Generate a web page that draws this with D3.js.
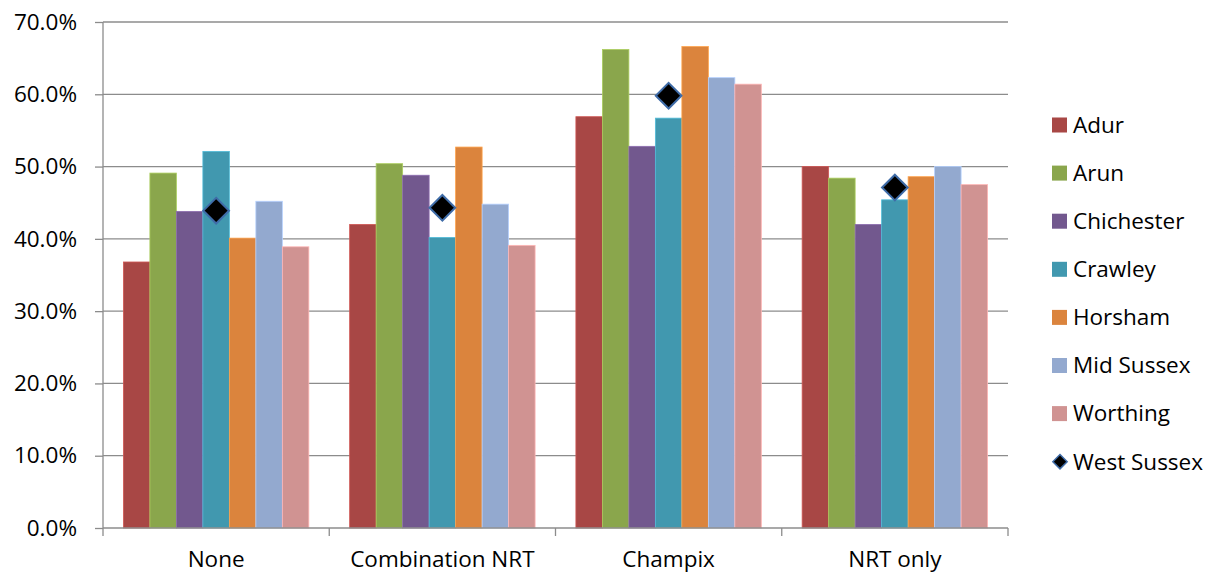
<!DOCTYPE html>
<html>
<head>
<meta charset="utf-8">
<script src="https://cdn.jsdelivr.net/npm/d3@7"></script>
<style>
  html, body { margin: 0; padding: 0; background: #fff; }
  svg { display: block; font-family: "Open Sans", Lato, sans-serif; }
</style>
</head>
<body>
<svg id="chart" width="1218" height="575"></svg>
<script>
// Treatment categories along the x axis
const categories = ["None", "Combination NRT", "Champix", "NRT only"];

// District series (bars)
const districts = ["Adur", "Arun", "Chichester", "Crawley", "Horsham", "Mid Sussex", "Worthing"];
const districtColors = ["#A84745", "#8AA64C", "#72588E", "#4198AF", "#DB843D", "#93A9CF", "#D09392"];

// Percentages per district, one entry per category
const adur       = [36.8, 42.0, 56.9, 50.0];
const arun       = [49.1, 50.4, 66.2, 48.4];
const chichester = [43.8, 48.8, 52.8, 42.0];
const crawley    = [52.1, 40.2, 56.7, 45.4];
const horsham    = [40.1, 52.7, 66.6, 48.6];
const midSussex  = [45.2, 44.8, 62.3, 50.0];
const worthing   = [38.9, 39.1, 61.4, 47.5];

// County-wide figure (diamond markers)
const westSussex = [43.9, 44.3, 59.8, 47.1];

const yTicks = [0, 10, 20, 30, 40, 50, 60, 70];

const seriesValues = [adur, arun, chichester, crawley, horsham, midSussex, worthing];

const FONT = "'Open Sans', Lato, sans-serif";
const FS = 22.5;

const svg = d3.select("#chart");
const plot = { left: 103, right: 1008, top: 22, bottom: 528 };

const y = d3.scaleLinear().domain([0, 70]).range([plot.bottom, plot.top]);
const x0 = d3.scaleBand().domain(categories).range([plot.left, plot.right]).padding(0);
const x1 = d3.scaleBand().domain(districts).range([0, x0.bandwidth()])
  .paddingInner(0).paddingOuter(0.77);

// Horizontal gridlines
svg.append("g").selectAll("line")
  .data(yTicks.filter(d => d > 0))
  .join("line")
  .attr("x1", plot.left).attr("x2", plot.right)
  .attr("y1", d => y(d)).attr("y2", d => y(d))
  .attr("stroke", "#8c8c8c").attr("stroke-width", 1.3);

// Bars
const groups = svg.append("g").selectAll("g")
  .data(categories)
  .join("g")
  .attr("transform", c => `translate(${x0(c)},0)`);

groups.selectAll("rect")
  .data((c, ci) => districts.map((d, di) => ({ d, di, v: seriesValues[di][ci] })))
  .join("rect")
  .attr("x", e => x1(e.d))
  .attr("y", e => y(e.v))
  .attr("width", x1.bandwidth())
  .attr("height", e => y(0) - y(e.v))
  .attr("fill", e => districtColors[e.di])
  .attr("stroke", e => d3.color(districtColors[e.di]).brighter(0.6))
  .attr("stroke-width", 0.8);

// West Sussex diamonds, centred in each category
const diamond = d3.symbol().type(d3.symbolDiamond2).size(420);
svg.append("g").selectAll("path")
  .data(categories.map((c, i) => ({ c, v: westSussex[i] })))
  .join("path")
  .attr("d", diamond)
  .attr("transform", e => `translate(${x0(e.c) + x0.bandwidth() / 2},${y(e.v)})`)
  .attr("fill", "#000")
  .attr("stroke", "#3F6CA8")
  .attr("stroke-width", 2);

// Y axis
const yAxis = d3.axisLeft(y).tickValues(yTicks).tickSize(8).tickPadding(18)
  .tickFormat(d => d.toFixed(1) + "%");
const yg = svg.append("g").attr("transform", `translate(${plot.left},0)`).call(yAxis);
yg.select(".domain").attr("stroke", "#8c8c8c").attr("stroke-width", 1.3)
  .attr("d", `M-0,${plot.top}V${plot.bottom}`);
yg.selectAll(".tick line").attr("stroke", "#8c8c8c").attr("stroke-width", 1.3);
yg.selectAll(".tick text").attr("font-size", FS).attr("fill", "#000")
  .attr("font-family", FONT);

// X axis: baseline with ticks at category boundaries
svg.append("line")
  .attr("x1", plot.left).attr("x2", plot.right)
  .attr("y1", y(0)).attr("y2", y(0))
  .attr("stroke", "#8c8c8c").attr("stroke-width", 1.3);
const bounds = categories.map(c => x0(c)).concat([x0(categories[categories.length - 1]) + x0.bandwidth()]);
svg.append("g").selectAll("line")
  .data(bounds)
  .join("line")
  .attr("x1", d => d).attr("x2", d => d)
  .attr("y1", y(0)).attr("y2", y(0) + 8)
  .attr("stroke", "#8c8c8c").attr("stroke-width", 1.3);
svg.append("g").selectAll("text")
  .data(categories)
  .join("text")
  .attr("x", c => x0(c) + x0.bandwidth() / 2)
  .attr("y", 567)
  .attr("text-anchor", "middle")
  .attr("font-size", FS)
  .attr("font-family", FONT)
  .attr("fill", "#000")
  .text(c => c);

// Legend
const legendItems = districts.concat(["West Sussex"]);
const legend = svg.append("g").selectAll("g")
  .data(legendItems)
  .join("g")
  .attr("transform", (d, i) => `translate(1052,${125 + i * 48.1})`);
legend.each(function(d, i) {
  const g = d3.select(this);
  if (i < districts.length) {
    g.append("rect").attr("x", 0).attr("y", -7.5).attr("width", 15).attr("height", 15)
      .attr("fill", districtColors[i]);
  } else {
    g.append("path").attr("d", d3.symbol().type(d3.symbolDiamond2).size(130))
      .attr("transform", "translate(8,0)")
      .attr("fill", "#000").attr("stroke", "#3F6CA8").attr("stroke-width", 1.5);
  }
  g.append("text").attr("x", 21).attr("y", 0).attr("dy", "0.35em")
    .attr("font-size", FS).attr("font-family", FONT).attr("fill", "#000").text(d);
});
</script>
</body>
</html>
